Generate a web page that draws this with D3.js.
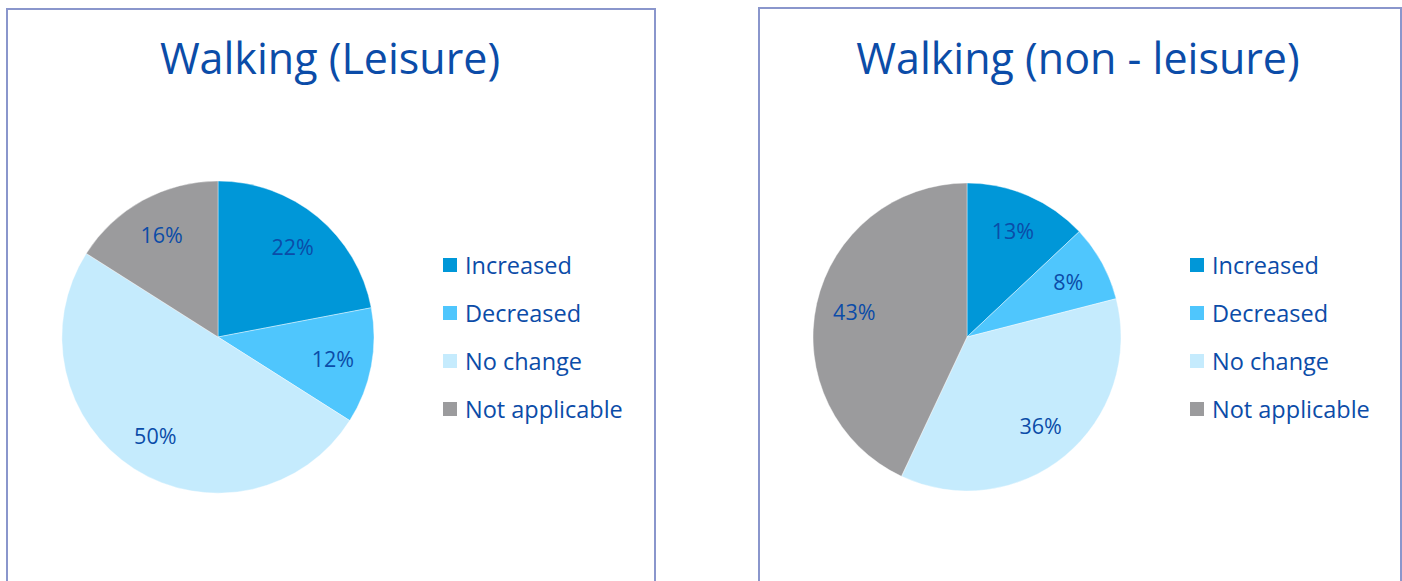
<!DOCTYPE html>
<html>
<head>
<meta charset="utf-8">
<script src="https://cdn.jsdelivr.net/npm/d3@7/dist/d3.min.js"></script>
<style>
  html, body { margin: 0; padding: 0; background: #ffffff; }
  svg { display: block; }
</style>
</head>
<body>
<svg id="chart" width="1402" height="581"></svg>
<script>
// Response categories shared by both pies
const categories = ["Increased", "Decreased", "No change", "Not applicable"];
const colors = ["#0097d8", "#4fc6fd", "#c5ebfd", "#9b9b9d"];

// Share of respondents (%)
const leisureValues = [22, 12, 50, 16];
const nonLeisureValues = [13, 8, 36, 43];

const titles = ["Walking (Leisure)", "Walking (non - leisure)"];

const textColor = "#0b4ca8";
const borderColor = "#8a96cc";
const fontFamily = "'Open Sans', 'DejaVu Sans', sans-serif";

const svg = d3.select("#chart");

const panels = [
  { title: titles[0], values: leisureValues, x0: 7, x1: 655, y0: 9,
    cx: 218, cy: 337, r: 156, titleX: 330, legendX: 443 },
  { title: titles[1], values: nonLeisureValues, x0: 759, x1: 1401, y0: 8,
    cx: 967, cy: 337, r: 154, titleX: 1078, legendX: 1190 }
];

const color = d3.scaleOrdinal().domain(categories).range(colors);

const pie = d3.pie().sort(null).value(d => d.value);

panels.forEach(p => {
  const g = svg.append("g");

  // Frame of the panel (runs past the bottom edge)
  g.append("path")
    .attr("d", `M${p.x0},600 L${p.x0},${p.y0} L${p.x1},${p.y0} L${p.x1},600`)
    .attr("fill", "none")
    .attr("stroke", borderColor)
    .attr("stroke-width", 2);

  g.append("text")
    .attr("x", p.titleX)
    .attr("y", 74)
    .attr("text-anchor", "middle")
    .attr("font-family", fontFamily)
    .attr("font-size", 43)
    .attr("fill", textColor)
    .text(p.title);

  const data = categories.map((c, i) => ({ cat: c, value: p.values[i] }));
  const arcs = pie(data);
  const arc = d3.arc().innerRadius(0).outerRadius(p.r);
  const labelArc = d3.arc().innerRadius(p.r * 0.75).outerRadius(p.r * 0.75);

  const pg = g.append("g").attr("transform", `translate(${p.cx},${p.cy})`);

  pg.selectAll("path.slice")
    .data(arcs)
    .join("path")
    .attr("class", "slice")
    .attr("d", arc)
    .attr("fill", d => color(d.data.cat))
    .attr("stroke", "#ffffff")
    .attr("stroke-width", 0.4);

  pg.selectAll("text.pct")
    .data(arcs)
    .join("text")
    .attr("class", "pct")
    .attr("transform", d => `translate(${labelArc.centroid(d)})`)
    .attr("text-anchor", "middle")
    .attr("dominant-baseline", "central")
    .attr("font-family", fontFamily)
    .attr("font-size", 21.5)
    .attr("fill", textColor)
    .text(d => d.data.value + "%");

  // Legend
  const lg = g.append("g").attr("transform", `translate(${p.legendX},265)`);
  const rows = lg.selectAll("g.item")
    .data(categories)
    .join("g")
    .attr("class", "item")
    .attr("transform", (d, i) => `translate(0,${i * 48})`);

  rows.append("rect")
    .attr("x", 0)
    .attr("y", -7)
    .attr("width", 14)
    .attr("height", 14)
    .attr("fill", d => color(d));

  rows.append("text")
    .attr("x", 22)
    .attr("y", 0)
    .attr("dominant-baseline", "central")
    .attr("font-family", fontFamily)
    .attr("font-size", 23.5)
    .attr("fill", textColor)
    .text(d => d);
});
</script>
</body>
</html>
